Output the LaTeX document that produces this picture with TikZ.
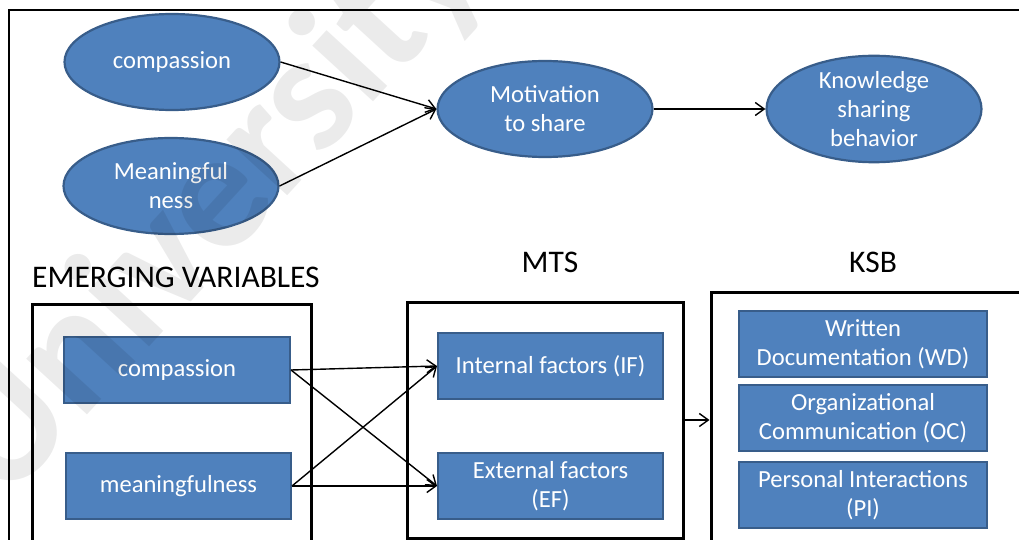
\documentclass[tikz,border=0pt]{standalone}
\usepackage{fontspec}
\setmainfont{Carlito}
\usetikzlibrary{shapes.geometric,arrows.meta}
\definecolor{boxfill}{HTML}{4F81BD}
\definecolor{boxline}{HTML}{385D8A}
\tikzset{
  blob/.style={ellipse, fill=boxfill, draw=boxline, line width=2.2pt,
    minimum width=215pt, minimum height=96pt, inner sep=0pt,
    text=white, align=center, font=\fontsize{24.6}{29}\selectfont},
  tile/.style={rectangle, fill=boxfill, draw=boxline, line width=2pt,
    minimum height=66pt, inner sep=0pt,
    text=white, align=center, font=\fontsize{24.6}{29}\selectfont},
  group/.style={rectangle, draw=black, line width=3pt, inner sep=0pt},
  heading/.style={font=\fontsize{31.5}{36}\selectfont, inner sep=0pt},
  link/.style={line width=1.4pt, -{Straight Barb[length=9pt,width=13pt,line width=1.4pt]}}
}
\begin{document}
\begin{tikzpicture}[x=1pt,y=-1pt]
\useasboundingbox (0,0) rectangle (1019,540);
\begin{scope}
\clip (0,0) rectangle (1019,540);
% outer frame
\draw[line width=1.6pt] (9,10) rectangle (1040,560);

% upper model
\node[blob] (ecomp) at (172,62) {compassion};
\node[blob] (emean) at (171,186) {Meaningful\\ness};
\node[blob] (emot)  at (545,109) {Motivation\\to share};
\node[blob] (eksb)  at (874,109) {Knowledge\\sharing\\behavior};
\draw[link] (ecomp.east) -- (emot.west);
\draw[link] (emean.east) -- (emot.west);
\draw[link] (emot.east) -- (eksb.west);

% headings
\node[heading, anchor=base west] (hev) at (32,287) {EMERGING VARIABLES};
\node[heading, anchor=base] (hmts) at (550,272) {MTS};
\node[heading, anchor=base] (hksb) at (873,272) {KSB};

% group frames
\node[group, minimum width=279pt, minimum height=260pt] (gev) at (171.5,434) {};
\node[group, minimum width=276pt, minimum height=236pt] (gmts) at (545,420) {};
\node[group, minimum width=330pt, minimum height=270pt] (gksb) at (876,427) {};

% tiles
\node[tile, minimum width=226pt] (tcomp) at (177,370) {compassion};
\node[tile, minimum width=225pt] (tmean) at (178.5,486) {meaningfulness};
\node[tile, minimum width=225pt] (tif) at (550.5,366) {Internal factors (IF)};
\node[tile, minimum width=225pt] (tef) at (550.5,486) {External factors\\(EF)};
\node[tile, minimum width=248pt] (twd) at (863,344) {Written\\Documentation (WD)};
\node[tile, minimum width=248pt] (toc) at (863,418) {Organizational\\Communication (OC)};
\node[tile, minimum width=248pt] (tpi) at (863,495) {Personal Interactions\\(PI)};

\draw[link] (tcomp.east) -- (tif.west);
\draw[link] (tcomp.east) -- (tef.west);
\draw[link] (tmean.east) -- (tif.west);
\draw[link] (tmean.east) -- (tef.west);
\draw[link] (gmts.east) -- (gksb.west |- gmts.east);

% watermark
\node[text=black, opacity=0.08, rotate=47.5, font=\bfseries\fontsize{170}{170}\selectfont, inner sep=0pt] (wm) at (213,209) {University};
\end{scope}
\end{tikzpicture}
\end{document}
